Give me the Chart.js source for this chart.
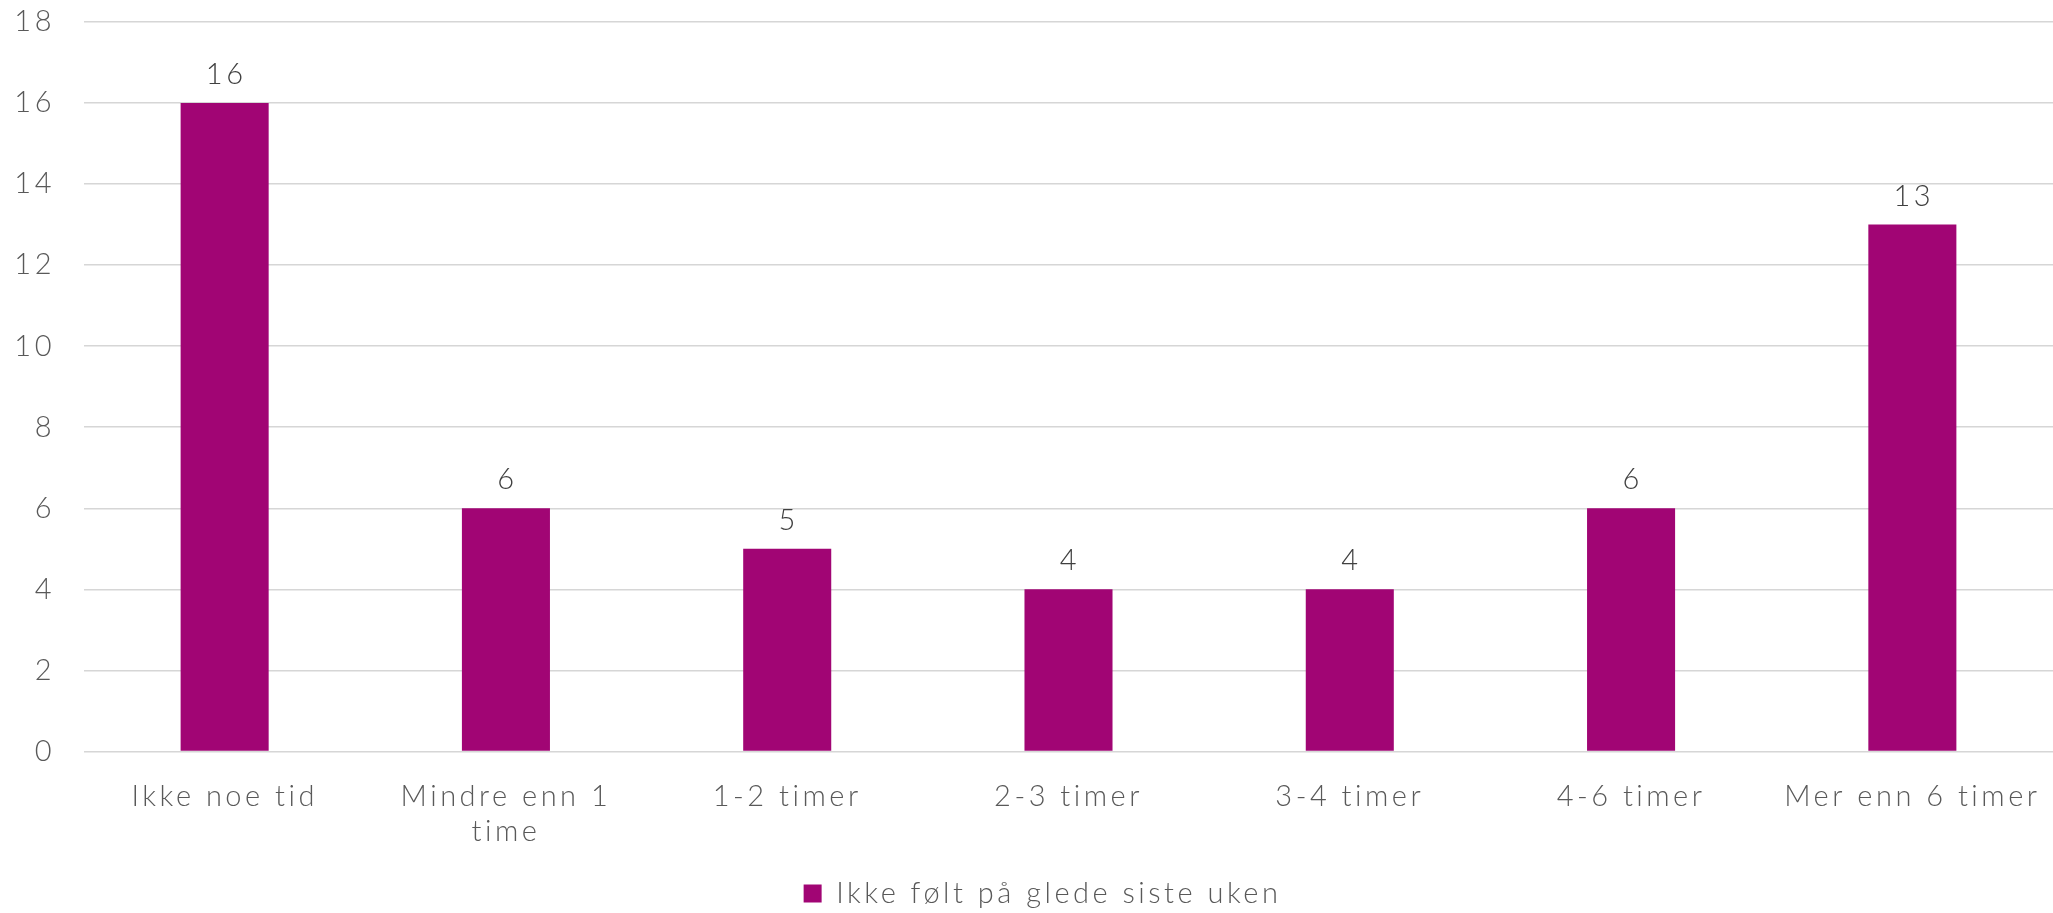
<!DOCTYPE html>
<html>
<head>
<meta charset="utf-8">
<script src="https://cdn.jsdelivr.net/npm/chart.js@4.4.1/dist/chart.umd.min.js"></script>
<style>
html,body{margin:0;padding:0;background:#fff;}
#wrap{width:2053px;height:913px;position:relative;}
</style>
</head>
<body>
<div id="wrap"><canvas id="c" width="2053" height="913"></canvas></div>
<script>
const categories = ['Ikke noe tid', ['Mindre enn 1', 'time'], '1-2 timer', '2-3 timer', '3-4 timer', '4-6 timer', 'Mer enn 6 timer'];
const values = [16, 6, 5, 4, 4, 6, 13];
const seriesName = 'Ikke følt på glede siste uken';
const yTicks = [0, 2, 4, 6, 8, 10, 12, 14, 16, 18];

const FONT = 'Lato';
const barColor = '#A10574';
const SPACING = '3.5px';

const spacingPlugin = {
  id: 'spacing',
  beforeUpdate(chart) { chart.ctx.letterSpacing = SPACING; },
  beforeLayout(chart) { chart.ctx.letterSpacing = SPACING; },
  afterLayout(chart) {
    if (chart.legend) { chart.legend.left += 16; chart.legend.right += 16; }
  },
  beforeDraw(chart) { chart.ctx.letterSpacing = SPACING; }
};

const dataLabels = {
  id: 'dataLabels',
  afterDatasetsDraw(chart) {
    const ctx = chart.ctx;
    const meta = chart.getDatasetMeta(0);
    ctx.save();
    ctx.letterSpacing = SPACING;
    ctx.font = '300 29px ' + FONT;
    ctx.fillStyle = '#404040';
    ctx.textAlign = 'center';
    ctx.textBaseline = 'alphabetic';
    meta.data.forEach((bar, i) => {
      ctx.fillText(String(values[i]), bar.x + 1.5, bar.y - 19);
    });
    ctx.restore();
  }
};

new Chart(document.getElementById('c'), {
  type: 'bar',
  data: {
    labels: categories,
    datasets: [{
      label: seriesName,
      data: values,
      backgroundColor: barColor,
      borderWidth: 0,
      categoryPercentage: 1,
      barPercentage: 0.313
    }]
  },
  options: {
    responsive: false,
    animation: false,
    devicePixelRatio: 1,
    layout: { padding: { top: 22, right: 0, bottom: -5, left: 0 } },
    plugins: {
      legend: {
        position: 'bottom',
        labels: {
          boxWidth: 18, boxHeight: 18,
          color: '#595959',
          font: { family: FONT, size: 29, weight: 300 },
          padding: 10
        }
      },
      tooltip: { enabled: false }
    },
    scales: {
      x: {
        grid: { display: false },
        border: { display: false },
        afterFit(scale) { scale.paddingLeft = 0; scale.paddingRight = 0; },
        ticks: {
          color: '#595959',
          font: { family: FONT, size: 29, weight: 300 },
          maxRotation: 0, autoSkip: false, padding: 20
        }
      },
      y: {
        min: 0, max: 18,
        afterBuildTicks(scale) { scale.ticks = yTicks.map(v => ({ value: v })); },
        afterFit(scale) { scale.width = 84; scale.paddingTop = 0; scale.paddingBottom = 0; },
        grid: { color: '#d6d6d6', lineWidth: 1.5, drawTicks: false },
        border: { display: false },
        ticks: {
          color: '#595959',
          font: { family: FONT, size: 29, weight: 300 },
          padding: 29
        }
      }
    }
  },
  plugins: [spacingPlugin, dataLabels]
});
</script>
</body>
</html>
